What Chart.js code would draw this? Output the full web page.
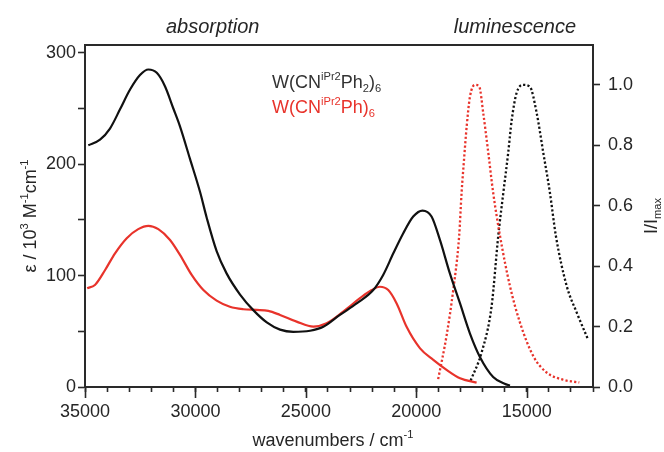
<!DOCTYPE html>
<html><head><meta charset="utf-8">
<script src="https://cdn.jsdelivr.net/npm/chart.js@4"></script>
<style>html,body{margin:0;padding:0;background:#fff}#wrap{width:664px;height:452px;position:relative}</style>
</head><body><div id="wrap"><canvas id="c" width="664" height="452"></canvas></div>
<script>
// ---- data (wavenumbers in cm^-1) ----
const blackAbsWn  = [34850,34320,33870,33420,32960,32510,32130,31750,31380,31000,30700,30250,29790,29490,29040,28590,27980,27380,26770,26170,25570,24810,24210,23460,22700,21950,21500,21040,20590,20140,19720,19310,18930,18480,18020,17570,17120,16520,16000,15760];
const blackAbsEps = [217,222,232,249,267,280,285,282,270,250,234,205,175,152,122,102,83,69,58,51.5,49.5,50.5,54,64.7,75,87,100.6,120,138,153,158.4,153,132,102,75,48,27,9,3,1.2];

const redAbsWn  = [34900,34550,34090,33640,33110,32590,32130,31680,31150,30700,30170,29640,29040,28440,27830,27230,26700,26170,25420,24660,24060,23310,22550,22020,21650,21270,20890,20440,19830,19230,18630,18020,17270];
const redAbsEps = [88.7,91.6,105,120,133.6,141.7,144.7,141.7,132,118.6,100.6,87,77.5,72,69.8,69.2,68.3,64.7,58.7,54.2,57.2,67.7,79.7,87,90,87,75,54,34.7,24.3,15.3,7.8,3.9];

const redLumWn = [19010,18630,18330,18060,17950,17840,17720,17570,17340,17150,16970,16740,16520,16210,15760,15310,14710,14100,13350,12620];
const redLumI  = [0.026,0.17,0.32,0.50,0.643,0.752,0.862,0.961,1.0,0.994,0.907,0.775,0.643,0.50,0.334,0.214,0.103,0.048,0.024,0.015];

const blackLumWn = [17540,17040,16590,16290,16060,15840,15680,15460,15160,14860,14550,14250,13950,13680,13190,12740,12230];
const blackLumI  = [0.021,0.115,0.268,0.50,0.643,0.775,0.884,0.973,1.0,0.994,0.907,0.775,0.643,0.50,0.334,0.247,0.158];

const xTicks = [12000,13000,14000,15000,16000,17000,18000,19000,20000,21000,22000,23000,24000,25000,26000,27000,28000,29000,30000,31000,32000,33000,34000,35000];
const xMajorTicks = [15000,20000,25000,30000,35000];
const leftTicks = [0,50,100,150,200,250,300];
const leftLabels = [0,100,200,300];
const rightTicks = [0,0.2,0.4,0.6,0.8,1.0];

const BLACK = '#111111', RED = '#e8332b', AXIS = '#2a2a2a', TXT = '#262626';
const FONT = "'Liberation Sans', Arial, Helvetica, sans-serif";

const pts = (xs, ys) => xs.map((x, i) => ({x, y: ys[i]}));

function drawRich(ctx, segs, x, y, o) {
  const size = o.size;
  const fnt = (s) => (o.italic ? 'italic ' : '') + s + 'px ' + FONT;
  let total = 0;
  segs.forEach(s => { const sz = (s.sup || s.sub) ? size * 0.62 : size; ctx.font = fnt(sz); s._w = ctx.measureText(s.t).width; s._sz = sz; total += s._w; });
  ctx.save();
  ctx.translate(x, y);
  if (o.rotate) ctx.rotate(o.rotate);
  ctx.textBaseline = 'alphabetic';
  ctx.textAlign = 'left';
  let cx = o.align === 'center' ? -total / 2 : (o.align === 'right' ? -total : 0);
  segs.forEach(s => {
    ctx.font = fnt(s._sz);
    ctx.fillStyle = s.c || o.color || TXT;
    const dy = s.sup ? -size * 0.45 : (s.sub ? size * 0.24 : 0);
    ctx.fillText(s.t, cx, dy);
    cx += s._w;
  });
  ctx.restore();
}

const decor = {
  id: 'decor',
  afterDraw(chart) {
    const ctx = chart.ctx, a = chart.chartArea, xs = chart.scales.x;
    ctx.save();
    ctx.strokeStyle = AXIS; ctx.lineWidth = 2;
    ctx.strokeRect(a.left, a.top, a.right - a.left, a.bottom - a.top);
    ctx.lineWidth = 1.6;
    xMajorTicks.forEach(v => {
      const px = Math.round(xs.getPixelForValue(v)) + 0.5;
      ctx.beginPath(); ctx.moveTo(px, a.bottom); ctx.lineTo(px, a.bottom + 11); ctx.stroke();
    });
    ctx.restore();
    drawRich(ctx, [{t: 'absorption'}], 166, 33, {size: 20, italic: true});
    drawRich(ctx, [{t: 'luminescence'}], 576, 33, {size: 20, italic: true, align: 'right'});
    drawRich(ctx, [{t: 'W(CN'}, {t: 'iPr2', sup: true}, {t: 'Ph'}, {t: '2', sub: true}, {t: ')'}, {t: '6', sub: true}], 272, 88, {size: 18, color: '#333'});
    drawRich(ctx, [{t: 'W(CN'}, {t: 'iPr2', sup: true}, {t: 'Ph)'}, {t: '6', sub: true}], 272, 113, {size: 18, color: RED});
    drawRich(ctx, [{t: 'wavenumbers / cm'}, {t: '-1', sup: true}], 333, 446, {size: 18, align: 'center'});
    drawRich(ctx, [{t: '\u03b5 / 10'}, {t: '3', sup: true}, {t: ' M'}, {t: '-1', sup: true}, {t: 'cm'}, {t: '-1', sup: true}], 36, 216, {size: 18, align: 'center', rotate: -Math.PI / 2});
    drawRich(ctx, [{t: 'I/I'}, {t: 'max', sub: true}], 657, 216, {size: 18, align: 'center', rotate: -Math.PI / 2});
  }
};

const lineDs = (label, data, color, axis, dotted) => ({
  label, data, yAxisID: axis,
  borderColor: color, backgroundColor: color,
  borderWidth: dotted ? 2.3 : 2.2,
  borderDash: dotted ? [2.2, 2.2] : [],
  borderCapStyle: 'butt',
  pointRadius: 0, cubicInterpolationMode: 'monotone', fill: false
});

new Chart(document.getElementById('c'), {
  type: 'line',
  data: {
    datasets: [
      lineDs('W(CNiPr2Ph2)6 abs', pts(blackAbsWn, blackAbsEps), BLACK, 'y', false),
      lineDs('W(CNiPr2Ph)6 abs', pts(redAbsWn, redAbsEps), RED, 'y', false),
      lineDs('W(CNiPr2Ph)6 lum', pts(redLumWn, redLumI), RED, 'y2', true),
      lineDs('W(CNiPr2Ph2)6 lum', pts(blackLumWn, blackLumI), BLACK, 'y2', true)
    ]
  },
  options: {
    responsive: false, animation: false, devicePixelRatio: 1,
    layout: {padding: {top: 45, left: 0, right: 0, bottom: 0}},
    plugins: {legend: {display: false}, tooltip: {enabled: false}},
    scales: {
      x: {
        type: 'linear', reverse: true, min: 12000, max: 35000,
        afterBuildTicks: s => { s.ticks = xTicks.map(v => ({value: v})); },
        afterFit: s => { s.height = 65; },
        ticks: {autoSkip: false, maxRotation: 0, padding: 9, color: TXT, font: {family: FONT, size: 18},
          callback: v => xMajorTicks.includes(v) ? String(v) : ''},
        grid: {drawOnChartArea: false, drawTicks: true, tickLength: 5, color: AXIS, tickWidth: 1.6},
        border: {display: true, color: AXIS, width: 2}
      },
      y: {
        position: 'left', min: 0, max: 307,
        afterBuildTicks: s => { s.ticks = leftTicks.map(v => ({value: v})); },
        afterFit: s => { s.width = 85; },
        ticks: {autoSkip: false, padding: 2, color: TXT, font: {family: FONT, size: 18},
          callback: v => leftLabels.includes(v) ? String(v) : ''},
        grid: {drawOnChartArea: false, drawTicks: true, tickLength: 7, color: AXIS, tickWidth: 1.6},
        border: {display: true, color: AXIS, width: 2}
      },
      y2: {
        position: 'right', min: 0, max: 1.132,
        afterBuildTicks: s => { s.ticks = rightTicks.map(v => ({value: v})); },
        afterFit: s => { s.width = 71; },
        ticks: {autoSkip: false, padding: 8, color: TXT, font: {family: FONT, size: 18},
          callback: v => v.toFixed(1)},
        grid: {drawOnChartArea: false, drawTicks: true, tickLength: 7, color: AXIS, tickWidth: 1.6},
        border: {display: true, color: AXIS, width: 2}
      }
    }
  },
  plugins: [decor]
});
</script></body></html>
